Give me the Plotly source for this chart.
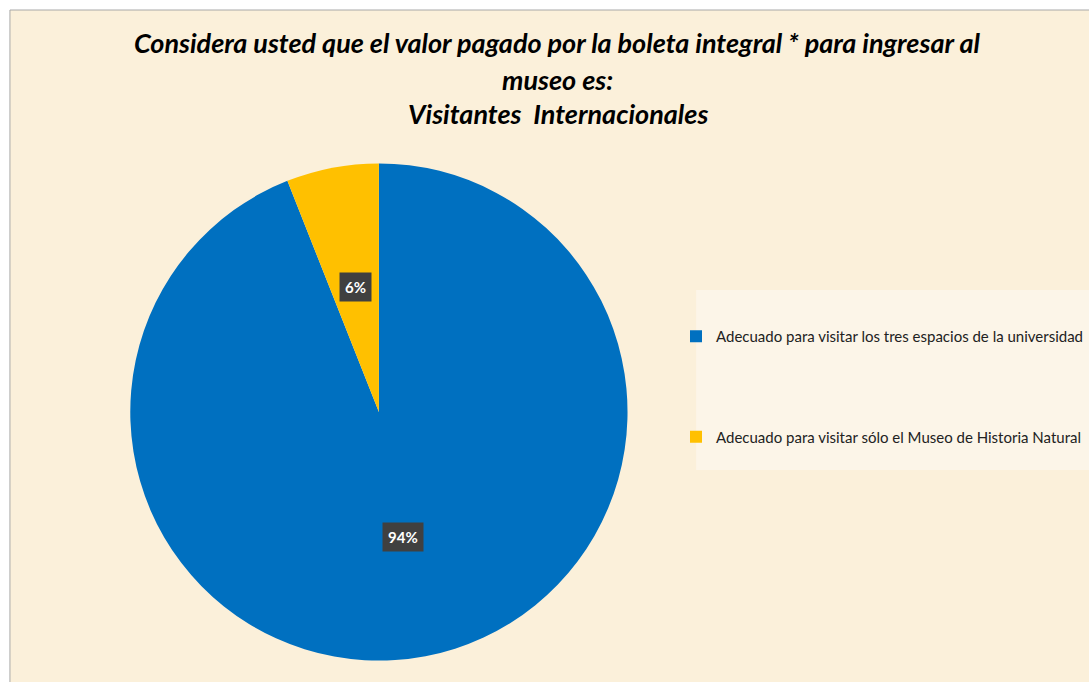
import math
import plotly.graph_objects as go

# ---- data ----
categories = [
    "Adecuado para visitar los tres espacios de la universidad",
    "Adecuado para visitar sólo el Museo de Historia Natural",
]
values = [94, 6]
slice_colors = ["#0070C0", "#FFC000"]
title_lines = [
    "Considera usted que el valor pagado por la boleta integral * para ingresar al",
    "museo es:",
    "Visitantes&nbsp; Internacionales",
]

# ---- geometry (pixels) ----
W, H = 1089, 682
CX, CY, R = 381, 412, 250
BG = "#FBF0DA"

legend_labels = [c + "<br>&nbsp;" * 4 for c in categories]

fig = go.Figure(
    go.Pie(
        labels=legend_labels,
        values=values,
        marker=dict(colors=slice_colors, line=dict(width=0)),
        sort=False,
        direction="clockwise",
        rotation=0,
        textinfo="none",
        hoverinfo="label+percent",
        domain=dict(x=[(CX - R) / W, (CX + R) / W], y=[1 - (CY + R) / H, 1 - (CY - R) / H]),
    )
)

# percentage labels placed at slice mid-angles (computed from values)
total = sum(values)
cum = 0
annotations = []
for v in values:
    mid = (cum + v / 2) / total * 2 * math.pi
    cum += v
    px = CX + 0.51 * R * math.sin(mid)
    py = CY - 0.51 * R * math.cos(mid)
    annotations.append(dict(
        x=px / W, y=1 - py / H, xref="paper", yref="paper",
        text=f"{round(v / total * 100)}%", showarrow=False,
        font=dict(family="Lato", size=15, color="white", weight="bold"),
        bgcolor="#404040", borderpad=5,
        xanchor="center", yanchor="middle",
    ))

title_y = [43, 79, 114]
for t, ty in zip(title_lines, title_y):
    annotations.append(dict(
        x=561 / W, y=1 - ty / H, xref="paper", yref="paper",
        text=f"<b><i>{t}</i></b>", showarrow=False,
        font=dict(family="Lato", size=27, color="black"),
        xanchor="center", yanchor="middle",
    ))

shapes = [
    dict(type="rect", xref="paper", yref="paper",
         x0=10 / W, x1=1.01, y0=-0.01, y1=1 - 10 / H,
         fillcolor=BG, line=dict(color="#A8A8A8", width=1), layer="below"),
    dict(type="rect", xref="paper", yref="paper",
         x0=700 / W, x1=1.01, y0=1 - 470 / H, y1=1 - 290 / H,
         fillcolor="#FCF5E8", line=dict(width=0), layer="below"),
]

fig.update_layout(
    width=W, height=H,
    margin=dict(l=0, r=0, t=0, b=0),
    paper_bgcolor="white",
    plot_bgcolor="white",
    showlegend=True,
    legend=dict(
        x=680 / W, y=1 - 320 / H, xanchor="left", yanchor="top",
        bgcolor="rgba(0,0,0,0)", valign="top",
        font=dict(family="Lato", size=15, color="#222222"),
        itemclick=False,
    ),
    annotations=annotations,
    shapes=shapes,
)

fig.write_html("out.html")
